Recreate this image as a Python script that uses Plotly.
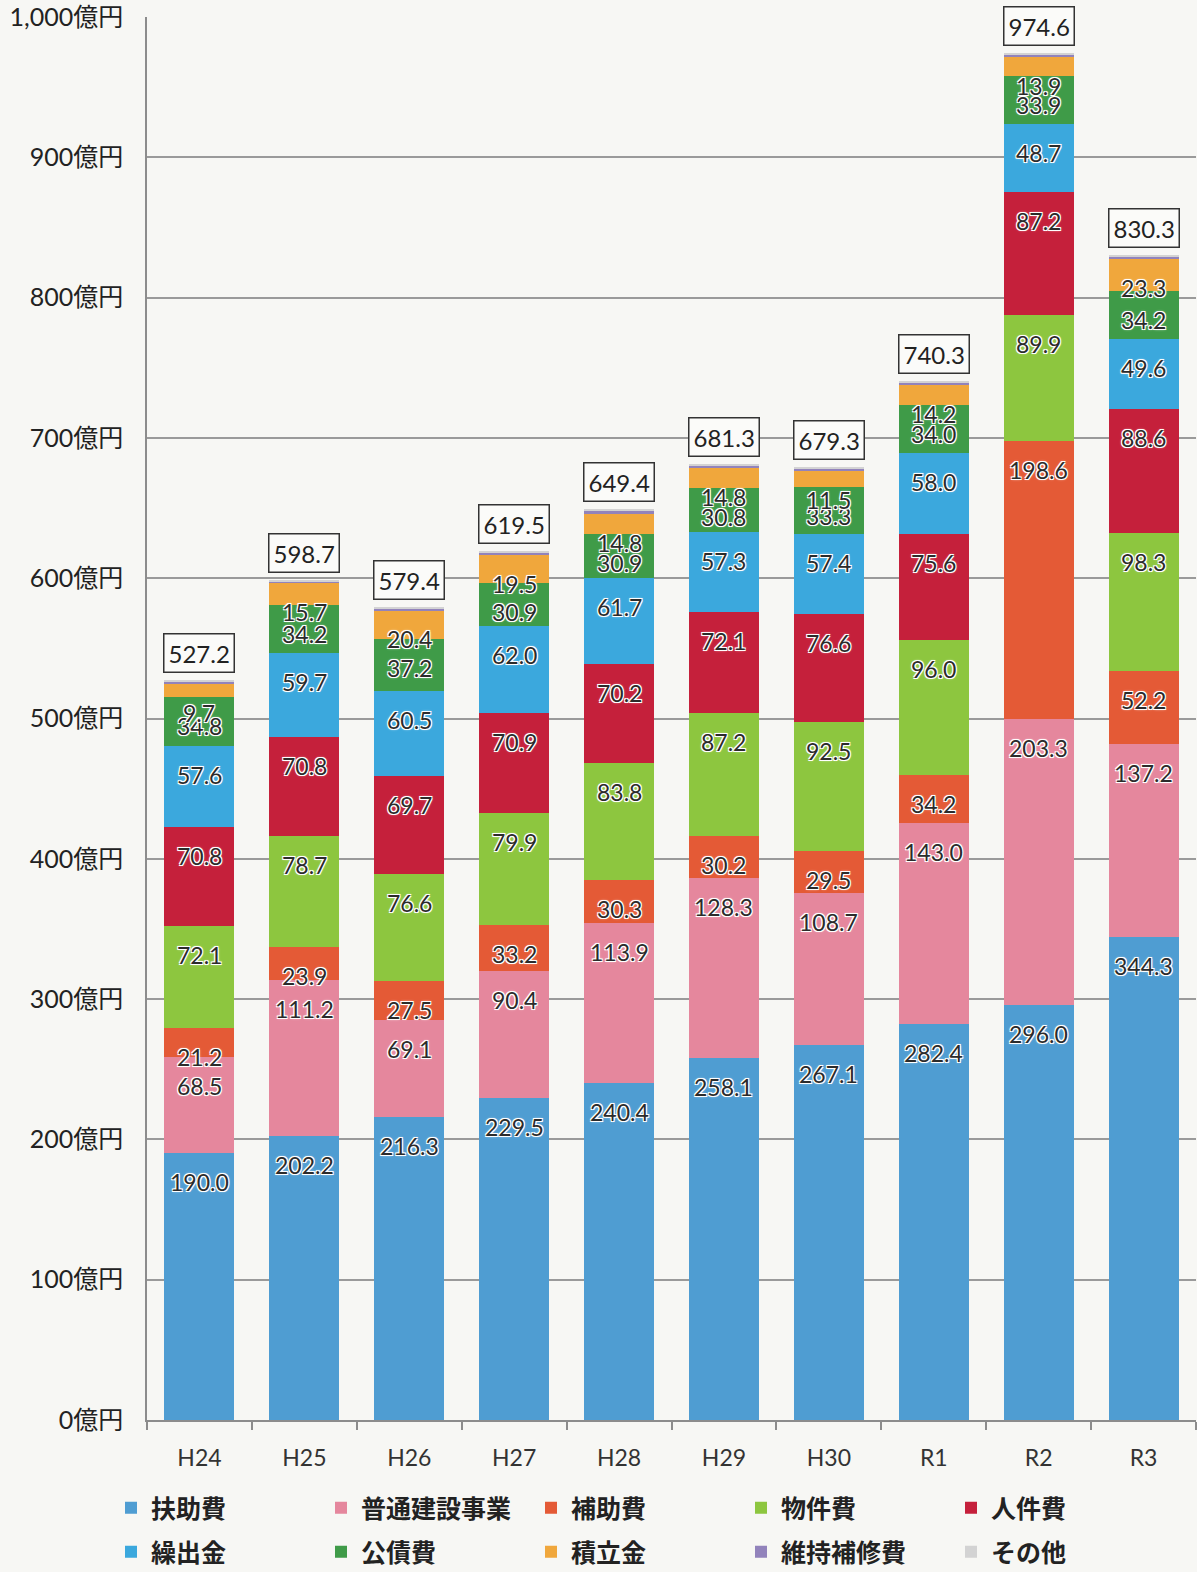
import plotly.graph_objects as go

# 年度
years = ["H24", "H25", "H26", "H27", "H28", "H29", "H30", "R1", "R2", "R3"]

# 性質別歳出（億円）
fujo = [190.0, 202.2, 216.3, 229.5, 240.4, 258.1, 267.1, 282.4, 296.0, 344.3]
futsu_kensetsu = [68.5, 111.2, 69.1, 90.4, 113.9, 128.3, 108.7, 143.0, 203.3, 137.2]
hojo = [21.2, 23.9, 27.5, 33.2, 30.3, 30.2, 29.5, 34.2, 198.6, 52.2]
bukken = [72.1, 78.7, 76.6, 79.9, 83.8, 87.2, 92.5, 96.0, 89.9, 98.3]
jinken = [70.8, 70.8, 69.7, 70.9, 70.2, 72.1, 76.6, 75.6, 87.2, 88.6]
kuridashi = [57.6, 59.7, 60.5, 62.0, 61.7, 57.3, 57.4, 58.0, 48.7, 49.6]
kousai = [34.8, 34.2, 37.2, 30.9, 30.9, 30.8, 33.3, 34.0, 33.9, 34.2]
tsumitate = [9.7, 15.7, 20.4, 19.5, 14.8, 14.8, 11.5, 14.2, 13.9, 23.3]
iji_hoshu = [1.6, 1.5, 1.4, 1.8, 1.9, 1.6, 1.7, 1.8, 1.9, 1.6]
sonota = [0.9, 0.8, 0.7, 1.4, 1.5, 0.9, 1.0, 1.1, 1.2, 1.0]

# 合計
totals = [527.2, 598.7, 579.4, 619.5, 649.4, 681.3, 679.3, 740.3, 974.6, 830.3]

series = [
    ("扶助費", fujo, "#4f9dd2", True),
    ("普通建設事業", futsu_kensetsu, "#e5879d", True),
    ("補助費", hojo, "#e45a36", True),
    ("物件費", bukken, "#8dc63f", True),
    ("人件費", jinken, "#c5203b", True),
    ("繰出金", kuridashi, "#3ba8dd", True),
    ("公債費", kousai, "#3f9b48", True),
    ("積立金", tsumitate, "#f0a73c", True),
    ("維持補修費", iji_hoshu, "#9283bb", False),
    ("その他", sonota, "#d3d3d3", False),
]

BG = "#f7f7f4"
NUM_FONT = "Lato, 'Noto Sans CJK JP', sans-serif"
JP_FONT = "'Noto Sans CJK JP', sans-serif"
HALO = ("-1px -1px 0 #fff, 1px -1px 0 #fff, -1px 1px 0 #fff, 1px 1px 0 #fff, "
        "0 0 3px #fff")

W, H = 1197, 1572
# 凡例: 5列×2行、各項目を個別の凡例として配置
LEG_COL_X = [111, 321, 531, 741, 951]
LEG_ROW_Y = [1508, 1552]

fig = go.Figure()
annotations = []
running = [0.0] * len(years)
layout_legends = {}

for i, (name, vals, color, labelled) in enumerate(series):
    leg_id = "legend" if i == 0 else f"legend{i + 1}"
    fig.add_trace(go.Bar(
        x=years, y=vals, name=name,
        marker=dict(color=color, line=dict(width=0)),
        legend=leg_id,
        hoverinfo="name+y",
    ))
    layout_legends[leg_id] = dict(
        orientation="h",
        xref="container", yref="container",
        x=LEG_COL_X[i % 5] / W, xanchor="left",
        y=1 - LEG_ROW_Y[i // 5] / H, yanchor="middle",
        font=dict(family=JP_FONT, size=25, color="#222", weight="bold"),
        bgcolor="rgba(0,0,0,0)",
        itemclick=False, itemdoubleclick=False,
    )
    for j, v in enumerate(vals):
        running[j] += v
        if labelled:
            # 値ラベルは各区分の上端寄り（内側・上）に配置
            annotations.append(dict(
                x=years[j], y=running[j], xref="x", yref="y",
                text=f"{v:.1f}", showarrow=False,
                yanchor="middle", yshift=-29,
                font=dict(family=NUM_FONT, size=23, color="#2b2b2b", shadow=HALO),
            ))

# 合計値の枠付きラベル
for j, t in enumerate(totals):
    annotations.append(dict(
        x=years[j], y=t, xref="x", yref="y",
        text=f"{t:.1f}", showarrow=False,
        yanchor="bottom", yshift=7,
        font=dict(family=NUM_FONT, size=24, color="#222"),
        bgcolor="#fbfbf9", bordercolor="#333", borderwidth=1.5, borderpad=4,
    ))

tick_vals = [0, 100, 200, 300, 400, 500, 600, 700, 800, 900, 1000]
tick_text = ["0億円", "100億円", "200億円", "300億円", "400億円", "500億円",
             "600億円", "700億円", "800億円", "900億円", "1,000億円"]

fig.update_layout(
    width=W, height=H,
    margin=dict(l=147, r=1, t=17, b=152),
    paper_bgcolor=BG, plot_bgcolor=BG,
    barmode="stack", bargap=0.333,
    showlegend=True,
    annotations=annotations,
    xaxis=dict(
        type="category",
        showline=True, linecolor="#8c8c8c", linewidth=1.5,
        ticks="outside", tickson="boundaries", ticklen=8,
        tickcolor="#8c8c8c", tickwidth=1.5,
        tickfont=dict(family=NUM_FONT, size=23, color="#333"),
        ticklabelstandoff=17,
    ),
    yaxis=dict(
        range=[0, 1000],
        tickvals=tick_vals, ticktext=tick_text,
        showgrid=True, gridcolor="#9a9a9a", gridwidth=1.5,
        showline=True, linecolor="#8c8c8c", linewidth=1.5,
        zeroline=False,
        tickfont=dict(family=NUM_FONT, size=25, color="#222"),
        ticklabelstandoff=17,
    ),
    **layout_legends,
)

fig.write_html("out.html")
